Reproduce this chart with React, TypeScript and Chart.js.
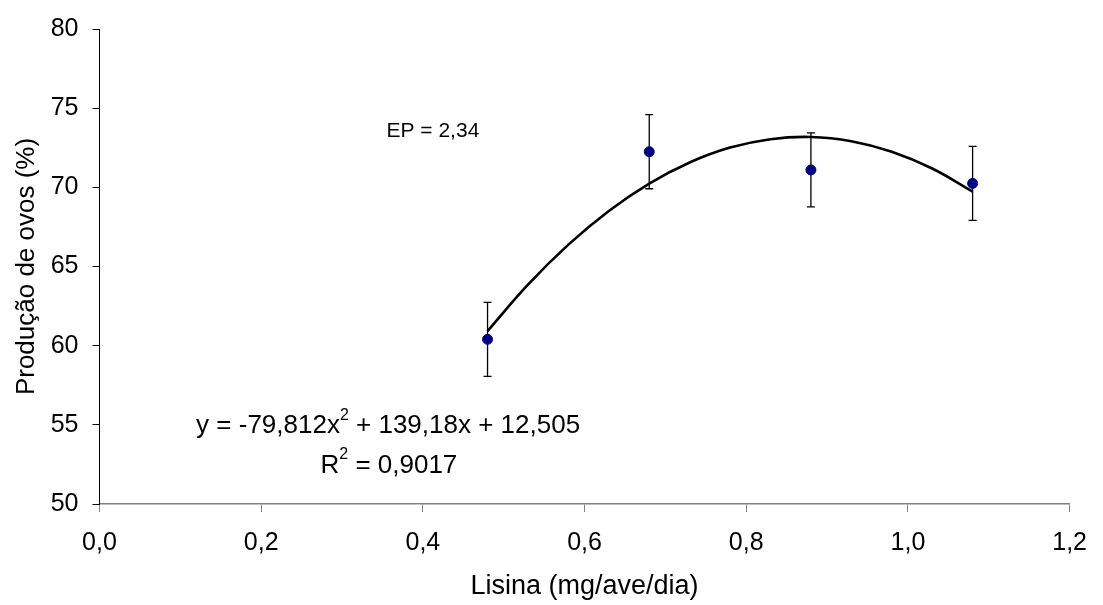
import React, { useEffect, useRef } from "react";
import { Chart, registerables } from "chart.js";

Chart.register(...registerables);

// Data
const lysine = [0.48, 0.68, 0.88, 1.08];
const eggProduction = [60.4, 72.25, 71.1, 70.25];
const errorEP = 2.34;

const trendX = [0.48, 0.53, 0.58, 0.63, 0.68, 0.73, 0.78, 0.83, 0.88, 0.93, 0.98, 1.03, 1.08];
const trendY = [60.92, 63.85, 66.38, 68.51, 70.24, 71.57, 72.51, 73.04, 73.18, 72.91, 72.25, 71.19, 69.73];

const xTitle = "Lisina (mg/ave/dia)";
const yTitle = "Produção de ovos (%)";
const epLabel = "EP = 2,34";
const eqParts = ["y = -79,812x", "2", " + 139,18x + 12,505"];
const r2Parts = ["R", "2", " = 0,9017"];

const FONT = "'Liberation Sans', Arial, Helvetica, sans-serif";

const errorBarPlugin = {
  id: "errorBars",
  beforeDatasetsDraw(chart: any) {
    const { ctx, scales } = chart;
    const xs = scales.x;
    const ys = scales.y;
    ctx.save();
    ctx.strokeStyle = "#000";
    ctx.lineWidth = 1.3;
    lysine.forEach((xv, i) => {
      const px = xs.getPixelForValue(xv);
      const top = ys.getPixelForValue(eggProduction[i] + errorEP);
      const bot = ys.getPixelForValue(eggProduction[i] - errorEP);
      ctx.beginPath();
      ctx.moveTo(px, top);
      ctx.lineTo(px, bot);
      ctx.moveTo(px - 4, top);
      ctx.lineTo(px + 4, top);
      ctx.moveTo(px - 4, bot);
      ctx.lineTo(px + 4, bot);
      ctx.stroke();
    });
    ctx.restore();
  },
};

function drawSupText(ctx: any, parts: string[], cx: number, cy: number, size: number) {
  const supSize = Math.round(size * 0.62);
  ctx.font = `${size}px ${FONT}`;
  const w0 = ctx.measureText(parts[0]).width;
  const w2 = ctx.measureText(parts[2]).width;
  ctx.font = `${supSize}px ${FONT}`;
  const w1 = ctx.measureText(parts[1]).width;
  const total = w0 + w1 + w2;
  let x = cx - total / 2;
  ctx.textAlign = "left";
  ctx.textBaseline = "middle";
  ctx.fillStyle = "#000";
  ctx.font = `${size}px ${FONT}`;
  ctx.fillText(parts[0], x, cy);
  x += w0;
  ctx.font = `${supSize}px ${FONT}`;
  ctx.fillText(parts[1], x, cy - size * 0.42);
  x += w1;
  ctx.font = `${size}px ${FONT}`;
  ctx.fillText(parts[2], x, cy);
}

const annotationPlugin = {
  id: "annotations",
  afterDraw(chart: any) {
    const { ctx, scales } = chart;
    const xs = scales.x;
    const ys = scales.y;
    ctx.save();
    ctx.fillStyle = "#000";
    ctx.font = `21px ${FONT}`;
    ctx.textAlign = "left";
    ctx.textBaseline = "middle";
    ctx.fillText(epLabel, xs.getPixelForValue(0.355), ys.getPixelForValue(73.53));
    drawSupText(ctx, eqParts, xs.getPixelForValue(0.357), ys.getPixelForValue(54.92), 26);
    drawSupText(ctx, r2Parts, xs.getPixelForValue(0.358), ys.getPixelForValue(52.43), 26);
    ctx.restore();
  },
};

export default function App() {
  const ref = useRef<HTMLCanvasElement>(null);
  useEffect(() => {
    if (!ref.current) return;
    const chart = new Chart(ref.current, {
      type: "scatter",
      data: {
        datasets: [
          {
            label: "Produção",
            data: lysine.map((x, i) => ({ x, y: eggProduction[i] })),
            pointRadius: 5,
            pointHoverRadius: 5,
            backgroundColor: "#000080",
            borderColor: "#000080",
            order: 0,
          },
          {
            label: "Tendência",
            data: trendX.map((x, i) => ({ x, y: trendY[i] })),
            showLine: true,
            pointRadius: 0,
            borderColor: "#000",
            borderWidth: 2.6,
            tension: 0.4,
            order: 1,
          } as any,
        ],
      },
      options: {
        responsive: false,
        animation: false,
        events: [],
        layout: { padding: { top: 22, right: 24, left: 0, bottom: 0 } },
        plugins: {
          legend: { display: false },
          tooltip: { enabled: false },
        },
        scales: {
          x: {
            type: "linear",
            min: 0,
            max: 1.2,
            afterFit: (s: any) => {
              s.height = 101;
            },
            ticks: {
              stepSize: 0.2,
              color: "#000",
              font: { family: FONT, size: 25 },
              padding: 16,
              maxRotation: 0,
              callback: (v: any) => Number(v).toFixed(1).replace(".", ","),
            },
            grid: {
              drawOnChartArea: false,
              drawTicks: true,
              tickLength: 8,
              color: "#808080",
            },
            border: { display: true, color: "#808080", width: 1.5 },
            title: {
              display: true,
              text: xTitle,
              color: "#000",
              font: { family: FONT, size: 27 },
              padding: { top: 0, bottom: 2 },
            },
          },
          y: {
            type: "linear",
            min: 50,
            max: 80,
            afterFit: (s: any) => {
              s.width = 99.5;
            },
            ticks: {
              stepSize: 5,
              color: "#000",
              font: { family: FONT, size: 25 },
              padding: 14,
            },
            grid: {
              drawOnChartArea: false,
              drawTicks: true,
              tickLength: 7,
              color: "#000",
            },
            border: { display: true, color: "#000", width: 1 },
            title: {
              display: true,
              text: yTitle,
              color: "#000",
              font: { family: FONT, size: 26 },
              padding: { top: 11, bottom: 0 },
            },
          },
        },
      },
      plugins: [errorBarPlugin, annotationPlugin],
    });
    return () => chart.destroy();
  }, []);
  return (
    <div style={{ position: "fixed", left: 0, top: 0, width: 1103, height: 605, background: "#fff" }}>
      <canvas ref={ref} width={1103} height={605} style={{ display: "block" }} />
    </div>
  );
}
